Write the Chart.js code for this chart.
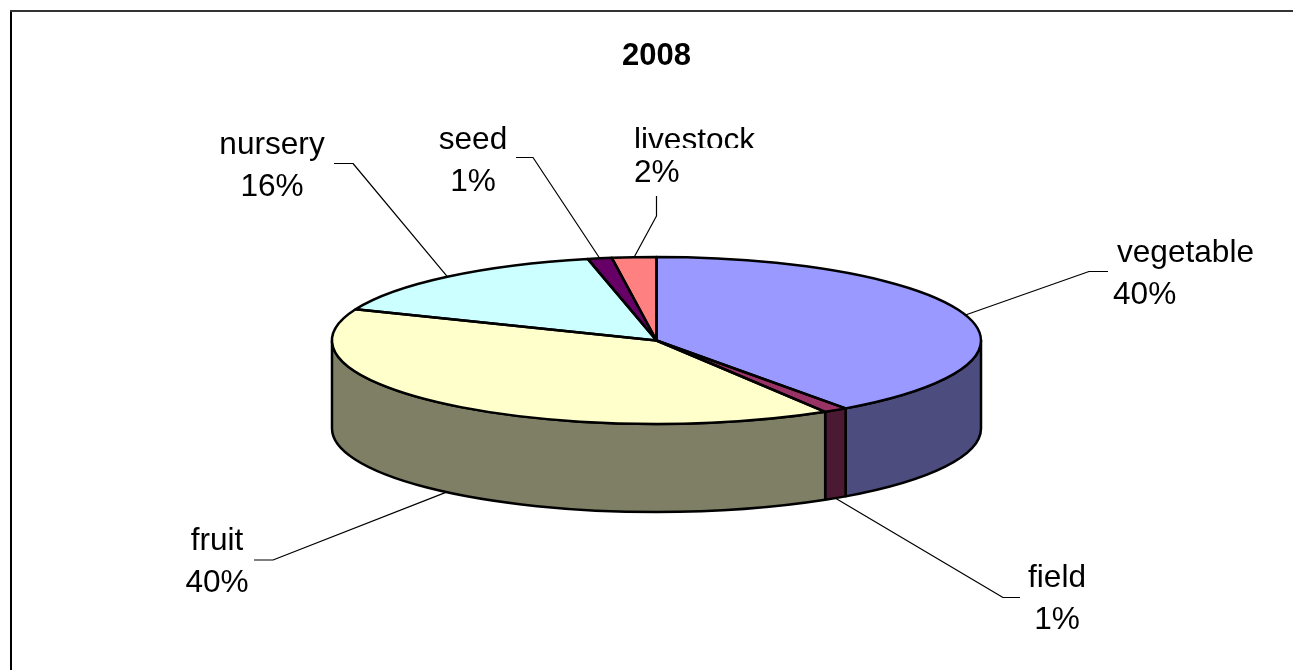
<!DOCTYPE html>
<html>
<head>
<meta charset="utf-8">
<style>html,body{margin:0;padding:0;background:#fff;overflow:hidden}canvas{display:block}</style>
<script src="https://cdn.jsdelivr.net/npm/chart.js@4"></script>
</head>
<body>
<canvas id="c" width="1293" height="670"></canvas>
<script>
const chartTitle = '2008';
const categories = ['vegetable', 'field', 'fruit', 'nursery', 'seed', 'livestock'];
const values = [40.1, 1.2, 39.8, 15.5, 1.2, 2.2];
const percentLabels = ['40%', '1%', '40%', '16%', '1%', '2%'];
const topColors = ['#9999FF', '#993366', '#FFFFCC', '#CCFFFF', '#660066', '#FF8080'];
const sideColors = ['#4C4C7F', '#4C1933', '#7F7F66', '#667F7F', '#330033', '#7F4040'];

// layout only
const FONT = '"Liberation Sans", Arial, sans-serif';
const pie = { cx: 656.5, cy: 340.5, rx: 324.5, ry: 83.5, depth: 88 };
const labelPos = [
  { a: 'left', x: 1117, y: 253, px: 1113, py: 295 },
  { a: 'center', x: 1057, y: 578, px: 1057, py: 620 },
  { a: 'center', x: 217, y: 541, px: 217, py: 583 },
  { a: 'center', x: 272, y: 145, px: 272, py: 187 },
  { a: 'center', x: 473, y: 140, px: 473, py: 182 },
  { a: 'left', x: 634, y: 141, px: 634, py: 173, clipBottom: 148 }
];
const leaderElbows = [
  [[1089, 271.5], [1108, 271.5]],
  [[1003, 597.5], [1020, 597.5]],
  [[273, 560], [254, 560]],
  [[353, 163.5], [334, 163.5]],
  [[533, 157.5], [516, 157.5]],
  [[656.5, 216], [656.5, 196]]
];

const pie3d = {
  id: 'pie3d',
  beforeDraw(chart) {
    const c = chart.ctx;
    c.save();
    c.fillStyle = '#fff';
    c.fillRect(0, 0, chart.width, chart.height);
    c.fillStyle = '#000';
    c.fillRect(10, 10, 2, chart.height - 10);
    c.fillStyle = '#333';
    c.fillRect(10, 10, chart.width - 10, 2);
    c.restore();
  },
  beforeDatasetsDraw(chart) {
    const c = chart.ctx, arcs = chart.getDatasetMeta(0).data;
    c.save();
    c.lineWidth = 2.5;
    c.lineJoin = 'round';
    c.strokeStyle = '#000';
    arcs.forEach((arc, i) => {
      const s = Math.max(arc.startAngle, 0), e = Math.min(arc.endAngle, Math.PI);
      if (s >= e) return;
      c.beginPath();
      c.ellipse(pie.cx, pie.cy, pie.rx, pie.ry, 0, s, e);
      c.ellipse(pie.cx, pie.cy + pie.depth, pie.rx, pie.ry, 0, e, s, true);
      c.closePath();
      c.fillStyle = sideColors[i];
      c.fill();
      c.stroke();
    });
    c.restore();
    // squash the library's circular pie into the top face of the disc
    const a0 = arcs[0];
    c.save();
    c.translate(pie.cx, pie.cy);
    c.scale(pie.rx / a0.outerRadius, pie.ry / a0.outerRadius);
    c.translate(-a0.x, -a0.y);
  },
  afterDatasetsDraw(chart) {
    const c = chart.ctx, arcs = chart.getDatasetMeta(0).data;
    c.restore();
    c.save();
    c.lineWidth = 2.5;
    c.lineJoin = 'round';
    c.strokeStyle = '#000';
    arcs.forEach(arc => {
      c.beginPath();
      c.moveTo(pie.cx, pie.cy);
      c.ellipse(pie.cx, pie.cy, pie.rx, pie.ry, 0, arc.startAngle, arc.endAngle);
      c.closePath();
      c.stroke();
    });
    // leader lines start at each slice's mid angle
    c.lineWidth = 1.2;
    c.strokeStyle = '#000';
    arcs.forEach((arc, i) => {
      const m = (arc.startAngle + arc.endAngle) / 2;
      let y = pie.cy + pie.ry * Math.sin(m);
      if (m > 0 && m < Math.PI) y += pie.depth;
      c.beginPath();
      c.moveTo(pie.cx + pie.rx * Math.cos(m), y);
      leaderElbows[i].forEach(p => c.lineTo(p[0], p[1]));
      c.stroke();
    });
    // labels
    c.fillStyle = '#000';
    c.font = '31.6px ' + FONT;
    c.textBaseline = 'middle';
    categories.forEach((name, i) => {
      const p = labelPos[i];
      c.textAlign = p.a;
      c.save();
      if (p.clipBottom) {
        c.beginPath();
        c.rect(0, 0, chart.width, p.clipBottom);
        c.clip();
      }
      c.fillText(name, p.x, p.y);
      c.restore();
      c.fillText(percentLabels[i], p.px, p.py);
    });
    c.restore();
  }
};

new Chart(document.getElementById('c'), {
  type: 'pie',
  plugins: [pie3d],
  data: {
    labels: categories,
    datasets: [{
      data: values,
      backgroundColor: topColors,
      borderWidth: 0,
      hoverBorderWidth: 0,
      clip: false
    }]
  },
  options: {
    responsive: false,
    animation: false,
    events: [],
    layout: { padding: { left: 20, right: 0, top: 0, bottom: 0 } },
    plugins: {
      legend: { display: false },
      tooltip: { enabled: false },
      title: {
        display: true,
        text: chartTitle,
        color: '#000',
        font: { family: FONT, size: 31, weight: 'bold' },
        padding: { top: 38, bottom: 10 }
      }
    }
  }
});
</script>
</body>
</html>
